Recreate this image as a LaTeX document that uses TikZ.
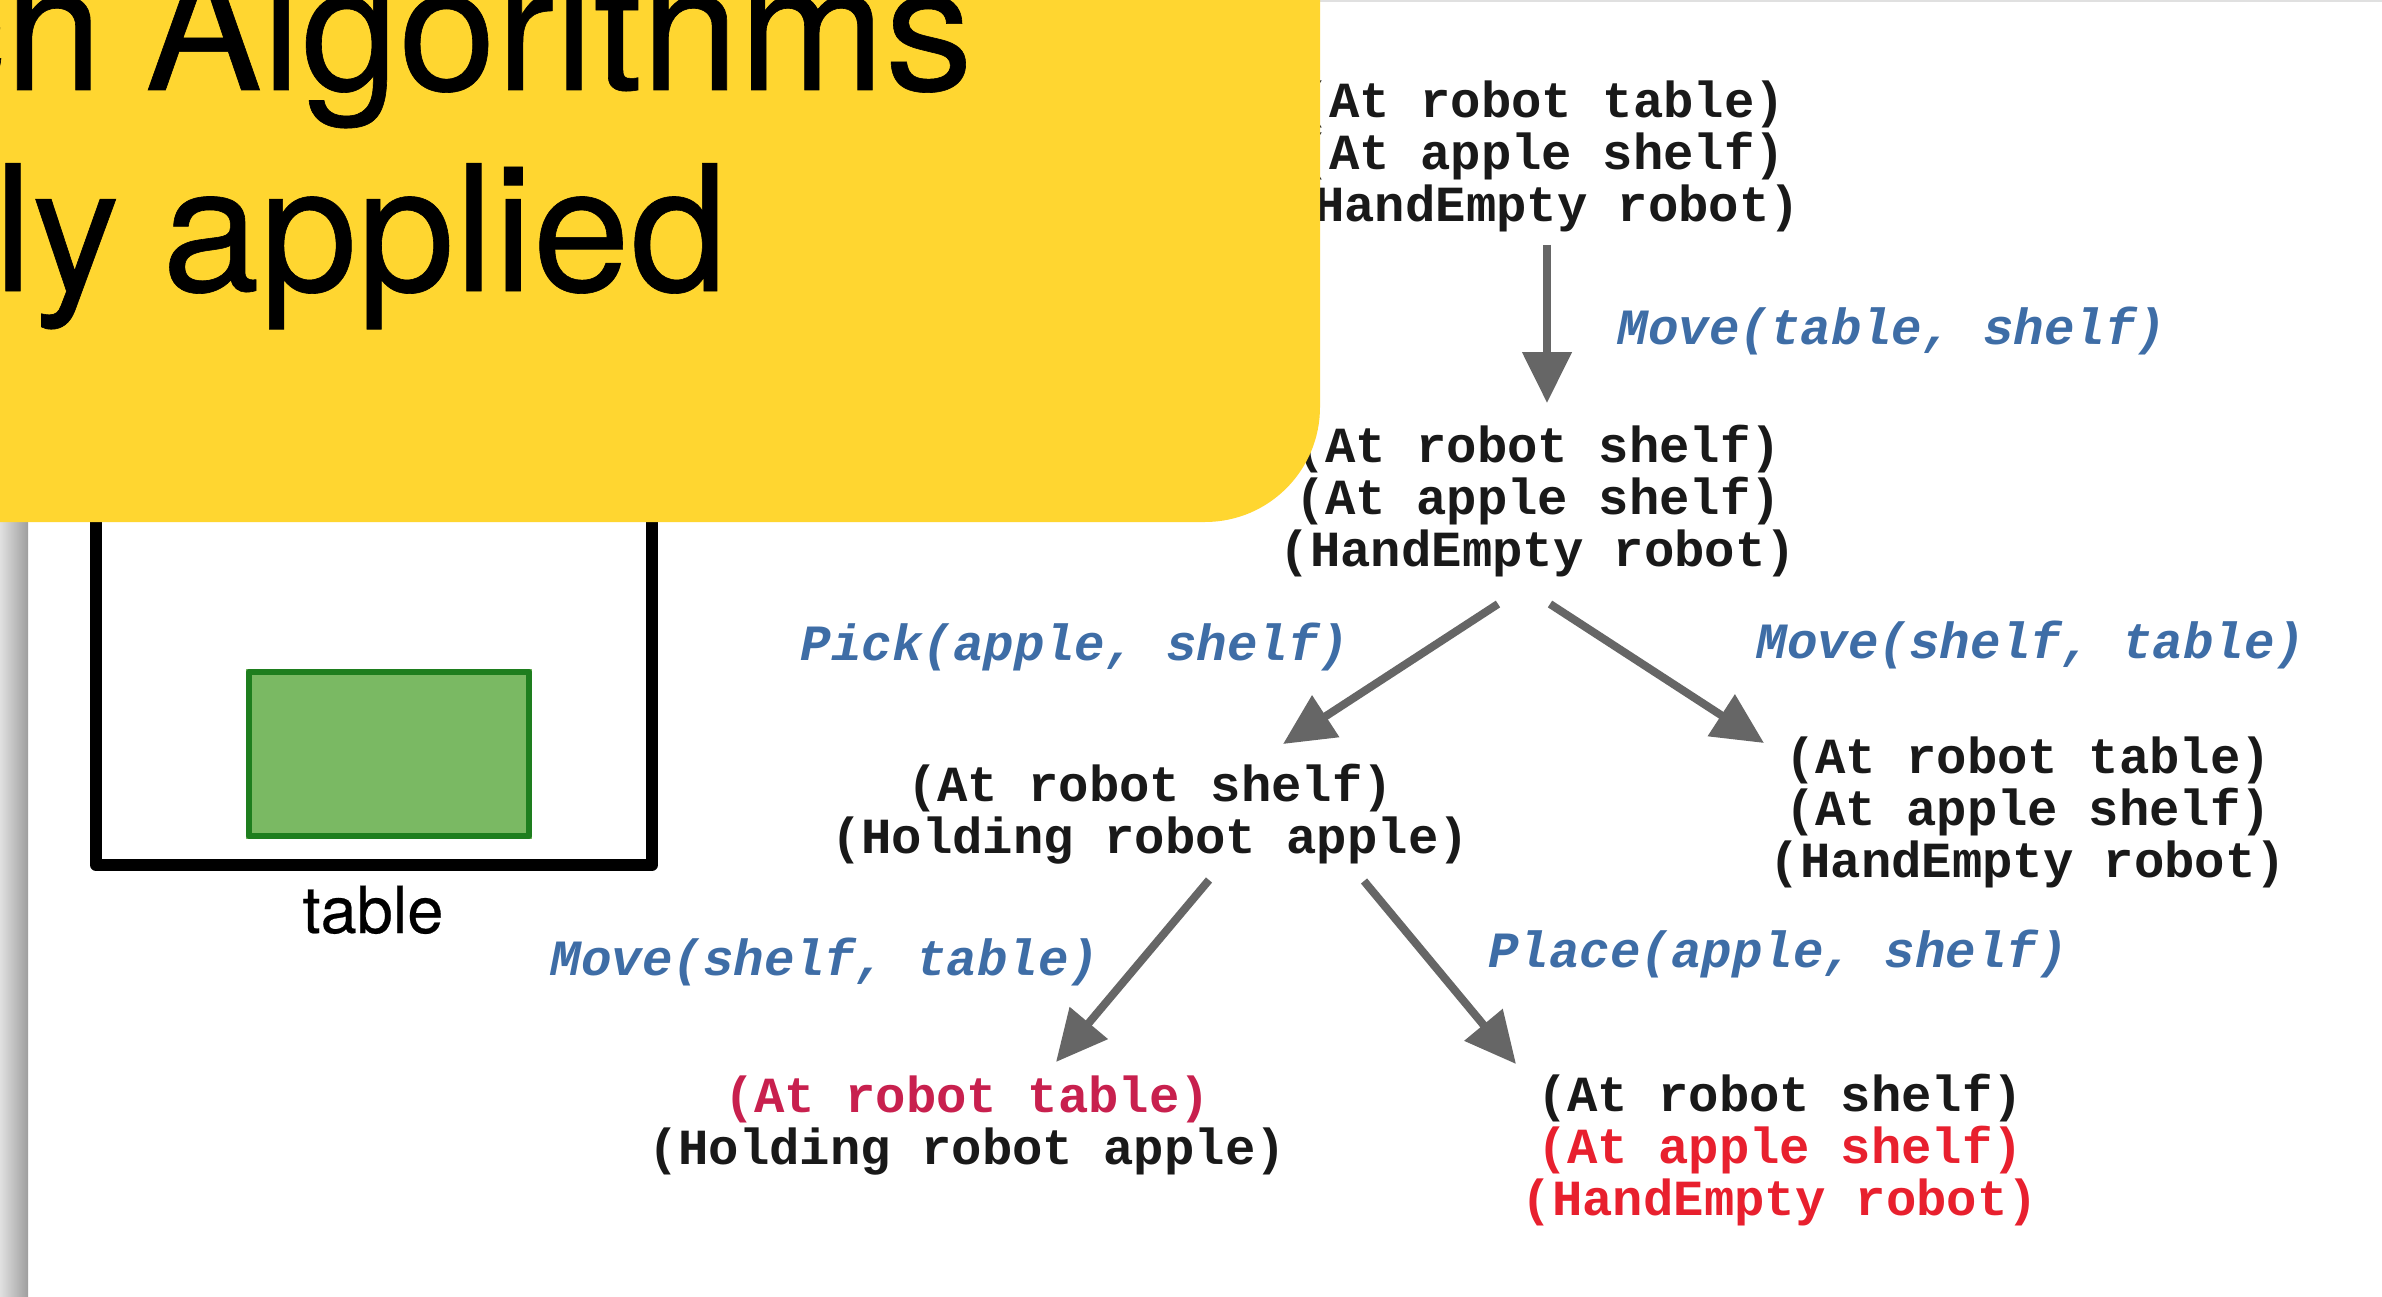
\documentclass[tikz,border=0pt]{standalone}
\usepackage{fontspec}
\setmainfont{TeX Gyre Heros}
\setmonofont{Liberation Mono}
\newfontfamily\heavysans[FakeBold=0.35]{TeX Gyre Heros}
\usetikzlibrary{arrows.meta}
\definecolor{slideyellow}{HTML}{FFD630}
\definecolor{actionblue}{HTML}{3E6DA6}
\definecolor{goalcrimson}{HTML}{C8204E}
\definecolor{goalred}{HTML}{E8202E}
\definecolor{arrowgrey}{HTML}{666666}
\definecolor{appfill}{HTML}{7AB963}
\definecolor{appedge}{HTML}{1E7E1E}
\tikzset{
  x=1pt,y=-1pt,
  statenode/.style={anchor=base,align=center,inner sep=0pt,text=black!90,
    font=\ttfamily\bfseries\fontsize{50.6}{52}\selectfont},
  actionlabel/.style={anchor=base,inner sep=0pt,text=actionblue,
    font=\ttfamily\bfseries\itshape\fontsize{50.8}{52}\selectfont},
  planarrow/.style={draw=arrowgrey,line width=8pt,-{Triangle[length=51pt,width=48pt]}},
  titletext/.style={anchor=base east,inner sep=0pt,text=black,
    font=\heavysans\fontsize{175.4}{176}\selectfont},
}
\begin{document}
\begin{tikzpicture}
\useasboundingbox (0,0) rectangle (2382,1297);
\clip (0,0) rectangle (2382,1297);
\fill[white] (0,0) rectangle (2382,1297);
\fill[black!12] (1300,0) rectangle (2382,2);
\shade[left color=black!12,right color=black!38] (0,500) rectangle (28,1297);

% scene: table with the apple block
\fill[appfill] (246,669) rectangle (532,839);
\draw[appedge,line width=6pt,line join=round] (249,672) rectangle (529,836);
\draw[black,line width=12pt,line join=round] (96,480) -- (96,865) -- (652,865) -- (652,480);
\node[anchor=base,inner sep=0pt,font=\heavysans\fontsize{65}{65}\selectfont] (tablelabel) at (373,933) {table};

% states
\node[statenode] (n1) at (1542,222) {(At robot table)\\(At apple shelf)\\(HandEmpty robot)};
\node[statenode] (n2) at (1538,566) {(At robot shelf)\\(At apple shelf)\\(HandEmpty robot)};
\node[statenode] (n3) at (1150,853) {(At robot shelf)\\(Holding robot apple)};
\node[statenode] (n4) at (2028,877) {(At robot table)\\(At apple shelf)\\(HandEmpty robot)};
\node[statenode] (n5) at (967,1164) {\textcolor{goalcrimson}{(At robot table)}\\(Holding robot apple)};
\node[statenode] (n6) at (1780,1215) {(At robot shelf)\\\textcolor{goalred}{(At apple shelf)}\\\textcolor{goalred}{(HandEmpty robot)}};

% actions
\node[actionlabel] (l1) at (1892,344) {Move(table, shelf)};
\node[actionlabel] (l2) at (1075,660) {Pick(apple, shelf)};
\node[actionlabel] (l3) at (2031,658) {Move(shelf, table)};
\node[actionlabel] (l4) at (825,975) {Move(shelf, table)};
\node[actionlabel] (l5) at (1778,967) {Place(apple, shelf)};

% transitions
\draw[planarrow] ([shift={(5,23)}]n1.base) -- ([shift={(9,-163)}]n2.base);
\draw[planarrow] ([shift={(-40,38)}]n2.base) -- ([shift={(133,-109)}]n3.base);
\draw[planarrow] ([shift={(12,38)}]n2.base) -- ([shift={(-264,-134)}]n4.base);
\draw[planarrow] ([shift={(59,27)}]n3.base) -- ([shift={(89,-102)}]n5.base);
\draw[planarrow] ([shift={(214,28)}]n3.base) -- ([shift={(-264,-151)}]n6.base);

% yellow title card, on top
\fill[slideyellow,rounded corners=115pt] (-300,-300) rectangle (1320,522);
\node[titletext] (title1) at (973,90) {ch\hspace{-6pt} Algorithms};
\node[titletext] (title2) at (728,291) {ly\hspace{-6pt} applied};
\end{tikzpicture}
\end{document}
